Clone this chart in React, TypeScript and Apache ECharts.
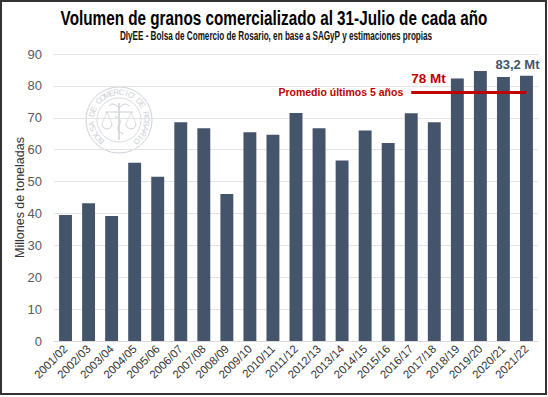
import React, { useEffect, useRef } from "react";
import * as echarts from "echarts";

const categories = [
  "2001/02", "2002/03", "2003/04", "2004/05", "2005/06", "2006/07", "2007/08",
  "2008/09", "2009/10", "2010/11", "2011/12", "2012/13", "2013/14", "2014/15",
  "2015/16", "2016/17", "2017/18", "2018/19", "2019/20", "2020/21", "2021/22",
];
const volumes = [
  39.5, 43.2, 39.2, 55.9, 51.5, 68.6, 66.7,
  46.1, 65.5, 64.7, 71.5, 66.7, 56.6, 66.0,
  62.1, 71.4, 68.6, 82.3, 84.7, 82.8, 83.2,
];
const yTicks = [0, 10, 20, 30, 40, 50, 60, 70, 80, 90];
const averageValue = 78;
const averageStart = "2016/17";
const averageEnd = "2021/22";
const lastLabel = "83,2 Mt";
const averageLabel = "78 Mt";
const averageName = "Promedio últimos 5 años";
const titleText = "Volumen de granos comercializado al 31-Julio de cada año";
const subtitleText = "DIyEE - Bolsa de Comercio de Rosario, en base a SAGyP y estimaciones propias";
const logoText = "BOLSA DE COMERCIO DE ROSARIO";

function measure(text: string, font: string): number {
  const c = document.createElement("canvas").getContext("2d")!;
  c.font = font;
  return c.measureText(text).width;
}

export default function App() {
  const ref = useRef<HTMLDivElement>(null);
  useEffect(() => {
    document.body.style.margin = "0";
    const chart = echarts.init(ref.current!, null, { renderer: "svg" });
    const body = "'Liberation Sans', Arial, sans-serif";
    const titleFont = "bold 21px 'Liberation Sans', Arial, sans-serif";
    const subFont = "bold 13px 'Liberation Sans', Arial, sans-serif";
    const titleScale = 427 / measure(titleText, titleFont);
    const subScale = 313 / measure(subtitleText, subFont);
    const logoColor = "#cdd1d8";
    const cx = 119, cy = 120;
    const logoEls: any[] = [
      { type: "circle", shape: { cx, cy, r: 33 }, style: { fill: "none", stroke: logoColor, lineWidth: 1 } },
      { type: "circle", shape: { cx, cy, r: 22 }, style: { fill: "none", stroke: logoColor, lineWidth: 0.8 } },
      { type: "line", shape: { x1: cx, y1: 103, x2: cx, y2: 140 }, style: { stroke: logoColor, lineWidth: 1.5 } },
      { type: "line", shape: { x1: cx - 14, y1: 112, x2: cx + 14, y2: 112 }, style: { stroke: logoColor, lineWidth: 1 } },
      { type: "arc", shape: { cx: cx - 12, cy: 124, r: 5, startAngle: 0, endAngle: Math.PI }, style: { stroke: logoColor, fill: "none", lineWidth: 1 } },
      { type: "arc", shape: { cx: cx + 12, cy: 124, r: 5, startAngle: 0, endAngle: Math.PI }, style: { stroke: logoColor, fill: "none", lineWidth: 1 } },
      { type: "line", shape: { x1: cx - 12, y1: 112, x2: cx - 17, y2: 124 }, style: { stroke: logoColor, lineWidth: 0.7 } },
      { type: "line", shape: { x1: cx - 12, y1: 112, x2: cx - 7, y2: 124 }, style: { stroke: logoColor, lineWidth: 0.7 } },
      { type: "line", shape: { x1: cx + 12, y1: 112, x2: cx + 7, y2: 124 }, style: { stroke: logoColor, lineWidth: 0.7 } },
      { type: "line", shape: { x1: cx + 12, y1: 112, x2: cx + 17, y2: 124 }, style: { stroke: logoColor, lineWidth: 0.7 } },
      { type: "bezierCurve", shape: { x1: cx - 10, y1: 106, x2: cx, y2: 108, cpx1: cx - 6, cpy1: 101 }, style: { stroke: logoColor, fill: "none", lineWidth: 1 } },
      { type: "bezierCurve", shape: { x1: cx + 10, y1: 106, x2: cx, y2: 108, cpx1: cx + 6, cpy1: 101 }, style: { stroke: logoColor, fill: "none", lineWidth: 1 } },
      { type: "bezierCurve", shape: { x1: cx - 4, y1: 116, x2: cx + 4, y2: 134, cpx1: cx + 10, cpy1: 124, cpx2: cx - 10, cpy2: 126 }, style: { stroke: logoColor, fill: "none", lineWidth: 1 } },
    ];
    const n = logoText.length;
    const a0 = (-140 * Math.PI) / 180;
    const a1 = (140 * Math.PI) / 180;
    for (let i = 0; i < n; i++) {
      const th = a0 + ((a1 - a0) * i) / (n - 1);
      const r = 27.5;
      logoEls.push({
        type: "text",
        x: cx + r * Math.sin(th),
        y: cy - r * Math.cos(th),
        rotation: -th,
        style: {
          text: logoText[i],
          fill: logoColor,
          font: "8px 'Liberation Sans', sans-serif",
          align: "center",
          verticalAlign: "middle",
        },
      });
    }

    chart.setOption({
      animation: false,
      grid: { left: 54, right: 10, top: 54, bottom: 56, containLabel: false },
      xAxis: {
        type: "category",
        data: categories,
        axisTick: { show: false },
        axisLine: { lineStyle: { color: "#d9d9d9" } },
        axisLabel: { rotate: 45, fontSize: 11.5, color: "#333", fontFamily: body, margin: 6, interval: 0 },
      },
      yAxis: {
        type: "value",
        min: 0,
        max: 90,
        interval: 10,
        name: "Millones de toneladas",
        nameLocation: "middle",
        nameGap: 28,
        nameMoveOverlap: false,
        nameTextStyle: { fontSize: 12.5, color: "#333", fontFamily: body },
        splitLine: { lineStyle: { color: "#e3e3e3" } },
        axisLabel: {
          fontSize: 13,
          color: "#595959",
          fontFamily: body,
          margin: 12,
          formatter: (v: number) => (yTicks.includes(v) ? String(v) : ""),
        },
      },
      graphic: [
        { type: "group", z: 0, children: logoEls, silent: true },
        {
          type: "text",
          x: 274,
          y: 17.5,
          scaleX: titleScale,
          style: { text: titleText, font: titleFont, fill: "#000", align: "center", verticalAlign: "middle" },
        },
        {
          type: "text",
          x: 276,
          y: 35,
          scaleX: subScale,
          style: { text: subtitleText, font: subFont, fill: "#111", align: "center", verticalAlign: "middle" },
        },
        {
          type: "rect",
          z: 100,
          shape: { x: 1, y: 1, width: 545, height: 393 },
          style: { fill: "none", stroke: "#333", lineWidth: 2 },
          silent: true,
        },
      ],
      series: [
        {
          type: "bar",
          data: volumes.map((v, i) =>
            i === volumes.length - 1
              ? {
                  value: v,
                  label: {
                    show: true,
                    position: "top",
                    offset: [-9, 0],
                    distance: 5,
                    formatter: lastLabel,
                    color: "#44546A",
                    fontWeight: "bold",
                    fontSize: 13,
                    fontFamily: body,
                  },
                }
              : v
          ),
          barWidth: "56%",
          itemStyle: { color: "#44546A" },
          markLine: {
            silent: true,
            symbol: ["none", "none"],
            lineStyle: { color: "#C00000", width: 3, type: "solid" },
            label: {
              show: true,
              position: "start",
              distance: 8,
              formatter: averageName,
              color: "#C00000",
              fontWeight: "bold",
              fontSize: 10.5,
              fontFamily: body,
            },
            data: [[{ coord: [averageStart, averageValue] }, { coord: [averageEnd, averageValue] }]],
          },
          markPoint: {
            silent: true,
            symbol: "circle",
            symbolSize: 0,
            data: [
              {
                coord: [averageStart, averageValue],
                label: {
                  show: true,
                  position: [0, -14],
                  align: "left",
                  verticalAlign: "middle",
                  formatter: averageLabel,
                  color: "#C00000",
                  fontWeight: "bold",
                  fontSize: 13.5,
                  fontFamily: body,
                },
              },
            ],
          },
        },
      ],
    });
    return () => chart.dispose();
  }, []);
  return <div ref={ref} style={{ width: 548, height: 397, background: "#fff" }} />;
}
